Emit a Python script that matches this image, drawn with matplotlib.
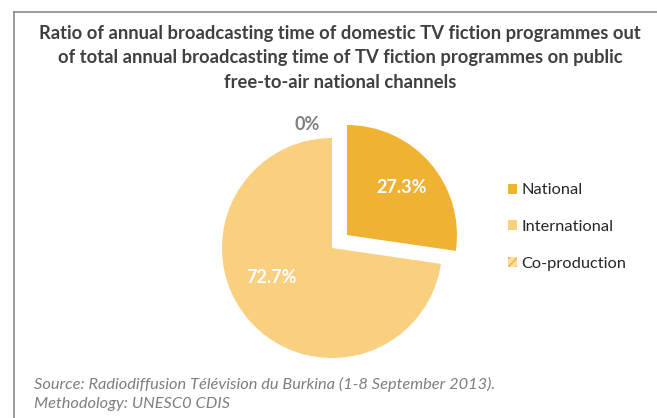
import matplotlib.pyplot as plt
import numpy as np
from matplotlib.patches import Patch
from matplotlib.lines import Line2D

plt.rcParams['font.family'] = ['Lato', 'DejaVu Sans']

#%% Data
categories = ["National", "International", "Co-production"]
shares = [27.3, 72.7, 0.0]
colors = ["#F0B233", "#F9D07F", "#F9D07F"]

title = ("Ratio of annual broadcasting time of domestic TV fiction programmes out\n"
         "of total annual broadcasting time of TV fiction programmes on public\n"
         "free-to-air national channels")
source = ("Source: Radiodiffusion Télévision du Burkina (1-8 September 2013).\n"
          "Methodology: UNESC0 CDIS")

#%% Figure
W, H = 657, 418
fig = plt.figure(figsize=(W / 100, H / 100), dpi=100)
fig.patch.set_facecolor("white")

# chart frame (left and top edges visible)
frame_col = "#8a8a8a"
fig.add_artist(Line2D([14 / W, 14 / W], [0, 1 - 12 / H], color=frame_col, lw=1.2))
fig.add_artist(Line2D([14 / W, 1], [1 - 12 / H, 1 - 12 / H], color=frame_col, lw=1.2))

fig.text(340 / W, 1 - 58 / H, title, ha="center", va="center", fontsize=13.2,
         fontweight="bold", color="#404040", linespacing=1.5)

#%% Pie
ax = fig.add_axes([200 / W, 38 / H, 264 / W, 264 / H])
wedges, _, autotexts = ax.pie(shares, colors=colors, startangle=90, counterclock=False,
                              explode=[0.18, 0, 0], autopct="%1.1f%%", pctdistance=0.66,
                              wedgeprops=dict(linewidth=0),
                              textprops=dict(color="white", fontsize=13, fontweight="bold"))
ax.set_xlim(-1.2, 1.2)
ax.set_ylim(-1.2, 1.2)
ax.set_aspect("equal")
ax.axis("off")

# nudge labels
autotexts[1].set_position((-0.55, -0.27))
autotexts[2].set_text("0%")
autotexts[2].set_color("#7f7f7f")
autotexts[2].set_position((-0.23, 1.12))

#%% Legend
handles = [Patch(facecolor=colors[0], edgecolor="none"),
           Patch(facecolor=colors[1], edgecolor="none"),
           Patch(facecolor="#FBDDA0", edgecolor="#F0B233", hatch="////", linewidth=0)]
leg = fig.legend(handles, categories, loc="center left", bbox_to_anchor=(493 / W, 1 - 227 / H),
                 frameon=False, fontsize=11.8, handlelength=0.55, handleheight=0.55,
                 handletextpad=0.3, labelspacing=1.38)
for t in leg.get_texts():
    t.set_color("#262626")

fig.text(34 / W, 1 - 394 / H, source, ha="left", va="center", fontsize=11.8,
         style="italic", color="#7f7f7f", linespacing=1.4)

fig.savefig("out.png", dpi=100)
